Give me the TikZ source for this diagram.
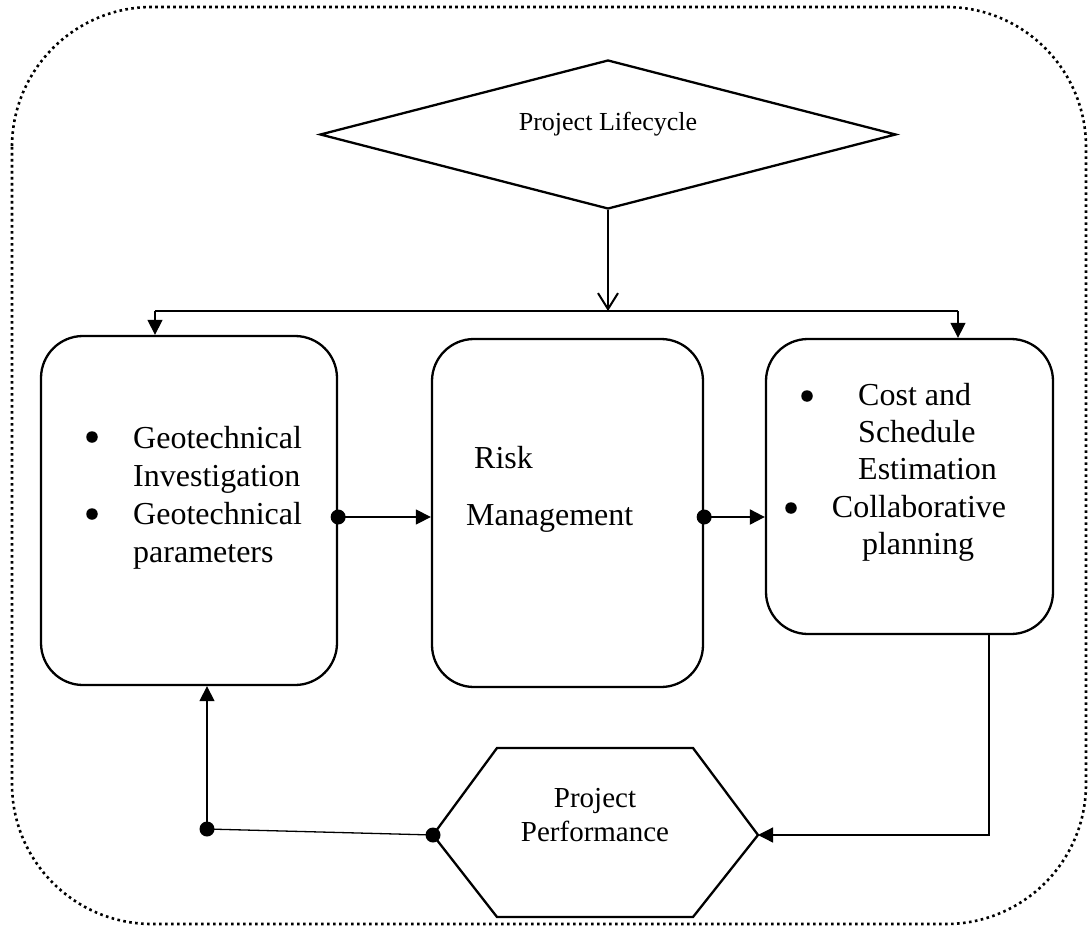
\documentclass[tikz,border=0pt]{standalone}
\usepackage{fontspec}
\setmainfont{Liberation Serif}
\usetikzlibrary{arrows.meta,shapes.geometric}
\begin{document}
\begin{tikzpicture}[x=1pt,y=-1pt,
  box/.style={draw,line width=2.3pt,rounded corners=42pt,inner sep=0pt},
  conn/.style={line width=1.3pt},
  tri/.style={-{Triangle[length=15pt,width=15pt]}},
  tbig/.style={font=\fontsize{32pt}{38pt}\selectfont,inner sep=0pt,anchor=base west},
  tmid/.style={font=\fontsize{29pt}{34pt}\selectfont,inner sep=0pt,anchor=base},
  tsmall/.style={font=\fontsize{26pt}{30pt}\selectfont,inner sep=0pt,anchor=base},
  dotmark/.style={fill=black},
  bulletmark/.style={circle,fill=black,inner sep=0pt,minimum size=11.5pt}
]
\useasboundingbox (0,0) rectangle (1089,928);
% outer dotted frame
\draw[line width=2.6pt, dash pattern=on 2.6pt off 3.4pt, rounded corners=140pt] (12,7) rectangle (1086,924);

% diamond
\node[draw, diamond, line width=2.3pt, minimum width=576pt, minimum height=149pt, inner sep=0pt] (dia) at (608,134.5) {};
\node[tsmall] (lifecycle) at (608,131) {Project Lifecycle};

% boxes
\node[box, minimum width=296pt, minimum height=349pt] (lbox) at (189,510.5) {};
\node[box, minimum width=271pt, minimum height=348pt] (mbox) at (567.5,513) {};
\node[box, minimum width=287pt, minimum height=295pt] (rbox) at (909.5,486.5) {};

% hexagon
\coordinate (hL) at (433,835);
\coordinate (hTL) at (497,748);
\coordinate (hTR) at (693,748);
\coordinate (hR) at (758,835);
\coordinate (hBR) at (693,917);
\coordinate (hBL) at (497,917);
\draw[line width=2.3pt, line join=miter] (hL) -- (hTL) -- (hTR) -- (hR) -- (hBR) -- (hBL) -- cycle;
\node[tmid] (perf1) at (595,807) {Project};
\node[tmid] (perf2) at (595,841) {Performance};

% split from diamond
\coordinate (split) at (608,311);
\coordinate (lj) at (155,311);
\coordinate (rj) at (958,311);
\draw[line width=2pt, -{Straight Barb[length=16pt,width=20pt,line width=2pt]}] (dia.south) -- (split);
\draw[conn] (lj) -- (rj);
\draw[conn,tri] (lj) -- (lj |- lbox.north);
\draw[conn,tri] (rj) -- (rj |- rbox.north);

% horizontal flow
\coordinate (row) at (0,517);
\draw[conn,tri] (lbox.east |- row) -- (mbox.west |- row);
\fill[dotmark] (lbox.east |- row) circle (7.5pt);
\draw[line width=2pt,tri] (mbox.east |- row) -- (rbox.west |- row);
\fill[dotmark] (mbox.east |- row) circle (7.5pt);

% right box to hexagon
\coordinate (rc) at (989,835);
\draw[conn,tri] (rbox.south -| rc) -- (rc) -- (hR);

% feedback
\coordinate (fb) at (207,829);
\draw[conn] (hL) -- (fb);
\draw[conn,tri] (fb) -- (fb |- lbox.south);
\fill[dotmark] (hL) circle (7.5pt);
\fill[dotmark] (fb) circle (7.5pt);

% left box text
\node[bulletmark] (lb1) at (92,437) {};
\node[tbig] (g1) at (133,448) {Geotechnical};
\node[tbig] (g2) at (133,486) {Investigation};
\node[bulletmark] (lb2) at (92,514) {};
\node[tbig] (g3) at (133,524) {Geotechnical};
\node[tbig] (g4) at (133,562) {parameters};

% middle box text
\node[tbig] (risk) at (474,468) {Risk};
\node[tbig] (mgmt) at (466,525) {Management};

% right box text
\node[bulletmark] (rb1) at (807,396) {};
\node[tbig] (c1) at (858,405) {Cost and};
\node[tbig] (c2) at (858,442) {Schedule};
\node[tbig] (c3) at (858,479) {Estimation};
\node[bulletmark] (rb2) at (791,508) {};
\node[tbig,anchor=base] (c4) at (919,517) {Collaborative};
\node[tbig,anchor=base] (c5) at (918,554) {planning};
\end{tikzpicture}
\end{document}
